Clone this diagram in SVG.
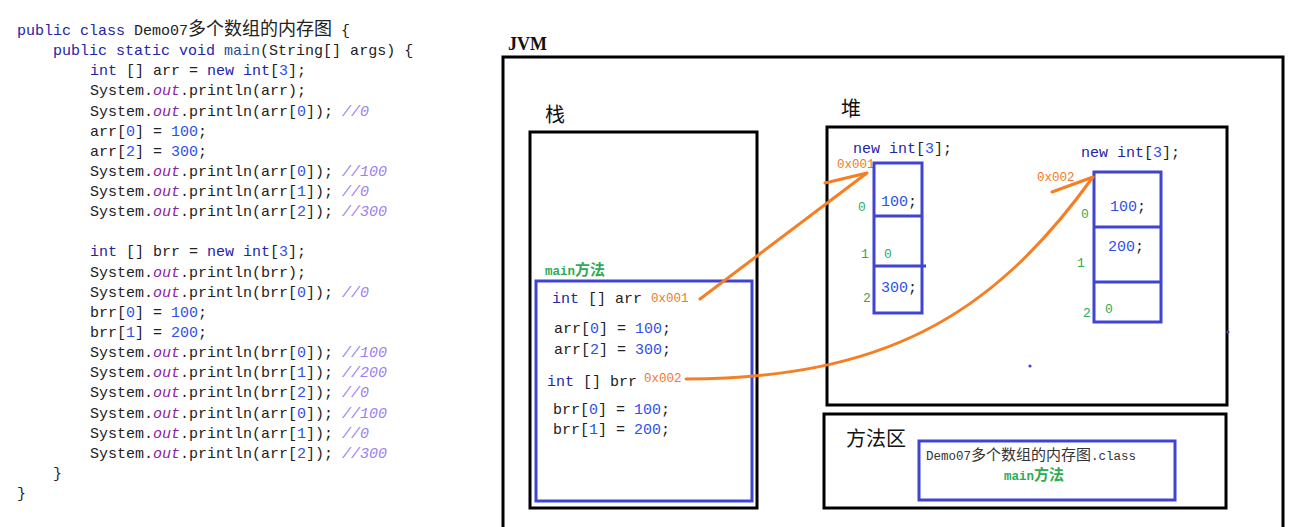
<svg xmlns="http://www.w3.org/2000/svg" width="1299" height="527" viewBox="0 0 1299 527">
<defs>
<style>
.code{font-family:"Liberation Mono","DejaVu Sans Mono",monospace;font-size:15px;fill:#222;white-space:pre}
.cjk{font-family:"Noto Sans CJK SC","Noto Sans",sans-serif}
.kw{fill:#2424a8}
.mn{fill:#1f4f8f}
.num{fill:#2f4fe8}
.out{fill:#8a22a8;font-style:italic}
.cm{fill:#9b80f0;font-style:italic}
.addr{font-family:"Liberation Mono","DejaVu Sans Mono",monospace;font-size:12.5px;fill:#f07a28}
.idx{font-family:"Liberation Mono","DejaVu Sans Mono",monospace;font-size:13px;fill:#2faa55}
.small{font-family:"Liberation Mono","DejaVu Sans Mono",monospace;font-size:12.5px;fill:#333}
text.grn{fill:#2faa55;font-weight:bold}
.title{font-family:"Noto Sans CJK SC","Noto Sans",sans-serif;font-size:20px;fill:#111}
.blk{fill:none;stroke:#000;stroke-width:3}
.blu{fill:none;stroke:#3f45d0;stroke-width:3}
.arrow{fill:none;stroke:#f57f22;stroke-width:3;stroke-linecap:round;stroke-linejoin:round}
</style>
</defs>
<rect width="1299" height="527" fill="#fff"/>

<g id="code">
<text class="code" x="17" y="35"><tspan class="kw">public</tspan> <tspan class="kw">class</tspan> Demo07<tspan class="cjk" font-size="18">多个数组的内存图</tspan> {</text>
<text class="code" x="53" y="55"><tspan class="kw">public</tspan> <tspan class="kw">static</tspan> <tspan class="kw">void</tspan> <tspan class="mn">main</tspan>(String[] args) {</text>
<text class="code" x="90" y="75"><tspan class="kw">int</tspan> [] arr = <tspan class="kw">new</tspan> <tspan class="kw">int</tspan>[<tspan class="num">3</tspan>];</text>
<text class="code" x="90" y="95.4">System.<tspan class="out">out</tspan>.println(arr);</text>
<text class="code" x="90" y="115.5">System.<tspan class="out">out</tspan>.println(arr[<tspan class="num">0</tspan>]); <tspan class="cm">//0</tspan></text>
<text class="code" x="90" y="135.7">arr[<tspan class="num">0</tspan>] = <tspan class="num">100</tspan>;</text>
<text class="code" x="90" y="155.8">arr[<tspan class="num">2</tspan>] = <tspan class="num">300</tspan>;</text>
<text class="code" x="90" y="175.9">System.<tspan class="out">out</tspan>.println(arr[<tspan class="num">0</tspan>]); <tspan class="cm">//100</tspan></text>
<text class="code" x="90" y="196">System.<tspan class="out">out</tspan>.println(arr[<tspan class="num">1</tspan>]); <tspan class="cm">//0</tspan></text>
<text class="code" x="90" y="216.2">System.<tspan class="out">out</tspan>.println(arr[<tspan class="num">2</tspan>]); <tspan class="cm">//300</tspan></text>
<text class="code" x="90" y="256.4"><tspan class="kw">int</tspan> [] brr = <tspan class="kw">new</tspan> <tspan class="kw">int</tspan>[<tspan class="num">3</tspan>];</text>
<text class="code" x="90" y="276.6">System.<tspan class="out">out</tspan>.println(brr);</text>
<text class="code" x="90" y="296.7">System.<tspan class="out">out</tspan>.println(brr[<tspan class="num">0</tspan>]); <tspan class="cm">//0</tspan></text>
<text class="code" x="90" y="316.8">brr[<tspan class="num">0</tspan>] = <tspan class="num">100</tspan>;</text>
<text class="code" x="90" y="337">brr[<tspan class="num">1</tspan>] = <tspan class="num">200</tspan>;</text>
<text class="code" x="90" y="357.1">System.<tspan class="out">out</tspan>.println(brr[<tspan class="num">0</tspan>]); <tspan class="cm">//100</tspan></text>
<text class="code" x="90" y="377.2">System.<tspan class="out">out</tspan>.println(brr[<tspan class="num">1</tspan>]); <tspan class="cm">//200</tspan></text>
<text class="code" x="90" y="397.3">System.<tspan class="out">out</tspan>.println(brr[<tspan class="num">2</tspan>]); <tspan class="cm">//0</tspan></text>
<text class="code" x="90" y="417.5">System.<tspan class="out">out</tspan>.println(arr[<tspan class="num">0</tspan>]); <tspan class="cm">//100</tspan></text>
<text class="code" x="90" y="437.6">System.<tspan class="out">out</tspan>.println(arr[<tspan class="num">1</tspan>]); <tspan class="cm">//0</tspan></text>
<text class="code" x="90" y="457.7">System.<tspan class="out">out</tspan>.println(arr[<tspan class="num">2</tspan>]); <tspan class="cm">//300</tspan></text>
<text class="code" x="53" y="477.9">}</text>
<text class="code" x="17" y="498">}</text>
</g>

<g id="jvm">
<rect class="blk" x="503" y="57" width="780" height="490"/>
<text x="508" y="50" font-family="Liberation Serif,serif" font-weight="bold" font-size="18" fill="#111">JVM</text>
</g>

<g id="stack">
<rect class="blk" x="530" y="132" width="227" height="376"/>
<text class="title" x="545" y="122">栈</text>
</g>

<g id="mainFrame">
<text class="small grn" x="545" y="275">main<tspan class="cjk" font-size="15">方法</tspan></text>
<rect class="blu" x="536" y="281" width="216" height="220"/>
<text class="code" x="552" y="303"><tspan class="kw">int</tspan> [] arr</text>
<text class="addr" x="651" y="302">0x001</text>
<text class="code" x="554" y="333">arr[<tspan class="num">0</tspan>] = <tspan class="num">100</tspan>;</text>
<text class="code" x="554" y="354">arr[<tspan class="num">2</tspan>] = <tspan class="num">300</tspan>;</text>
<text class="code" x="547" y="386"><tspan class="kw">int</tspan> [] brr</text>
<text class="addr" x="644" y="382">0x002</text>
<text class="code" x="553" y="414">brr[<tspan class="num">0</tspan>] = <tspan class="num">100</tspan>;</text>
<text class="code" x="553" y="434">brr[<tspan class="num">1</tspan>] = <tspan class="num">200</tspan>;</text>
</g>

<g id="heap">
<rect class="blk" x="827" y="127" width="400" height="278"/>
<text class="title" x="841" y="116">堆</text>
<circle cx="1030" cy="366" r="1.6" fill="#3f45d0"/>
<circle cx="1228" cy="332" r="1.6" fill="#3f45d0"/>
</g>

<g id="arr1">
<text class="code" x="853" y="153"><tspan class="kw">new</tspan> <tspan class="kw">int</tspan>[<tspan class="num">3</tspan>];</text>
<text class="addr" x="837" y="168" font-size="12">0x001</text>
<rect class="blu" x="874" y="163" width="48" height="150"/>
<line class="blu" x1="874" y1="216" x2="922" y2="216"/>
<line class="blu" x1="874" y1="266" x2="926" y2="266"/>
<text class="idx" x="858" y="211">0</text>
<text class="idx" x="861" y="258">1</text>
<text class="idx" x="863" y="302">2</text>
<text class="code" x="881" y="206"><tspan class="num">100</tspan>;</text>
<text class="idx" x="884" y="258">0</text>
<text class="code" x="881" y="292"><tspan class="num">300</tspan>;</text>
</g>

<g id="arr2">
<text class="code" x="1081" y="157"><tspan class="kw">new</tspan> <tspan class="kw">int</tspan>[<tspan class="num">3</tspan>];</text>
<text class="addr" x="1037" y="181">0x002</text>
<rect class="blu" x="1094" y="172" width="67" height="150"/>
<line class="blu" x1="1094" y1="227" x2="1161" y2="227"/>
<line class="blu" x1="1094" y1="282" x2="1161" y2="282"/>
<text class="idx" x="1081" y="218">0</text>
<text class="idx" x="1077" y="267">1</text>
<text class="idx" x="1083" y="317">2</text>
<text class="code" x="1110" y="211"><tspan class="num">100</tspan>;</text>
<text class="code" x="1108" y="251"><tspan class="num">200</tspan>;</text>
<text class="idx" x="1105" y="313">0</text>
</g>

<g id="methodArea">
<rect class="blk" x="824" y="414" width="402" height="94"/>
<text class="title" x="846" y="446" font-size="21">方法区</text>
</g>

<g id="classInfo">
<rect class="blu" x="919" y="441" width="256" height="59"/>
<text class="small" x="926" y="460">Demo07<tspan class="cjk" font-size="15">多个数组的内存图</tspan>.class</text>
<text class="small grn" x="1004" y="480">main<tspan class="cjk" font-size="15">方法</tspan></text>
</g>

<g id="connectors">
<path class="arrow" d="M700,299 L867,173 L825,183"/>
<path class="arrow" d="M686,379 C880,378 990,320 1093,177 L1052,192"/>
</g>
</svg>
